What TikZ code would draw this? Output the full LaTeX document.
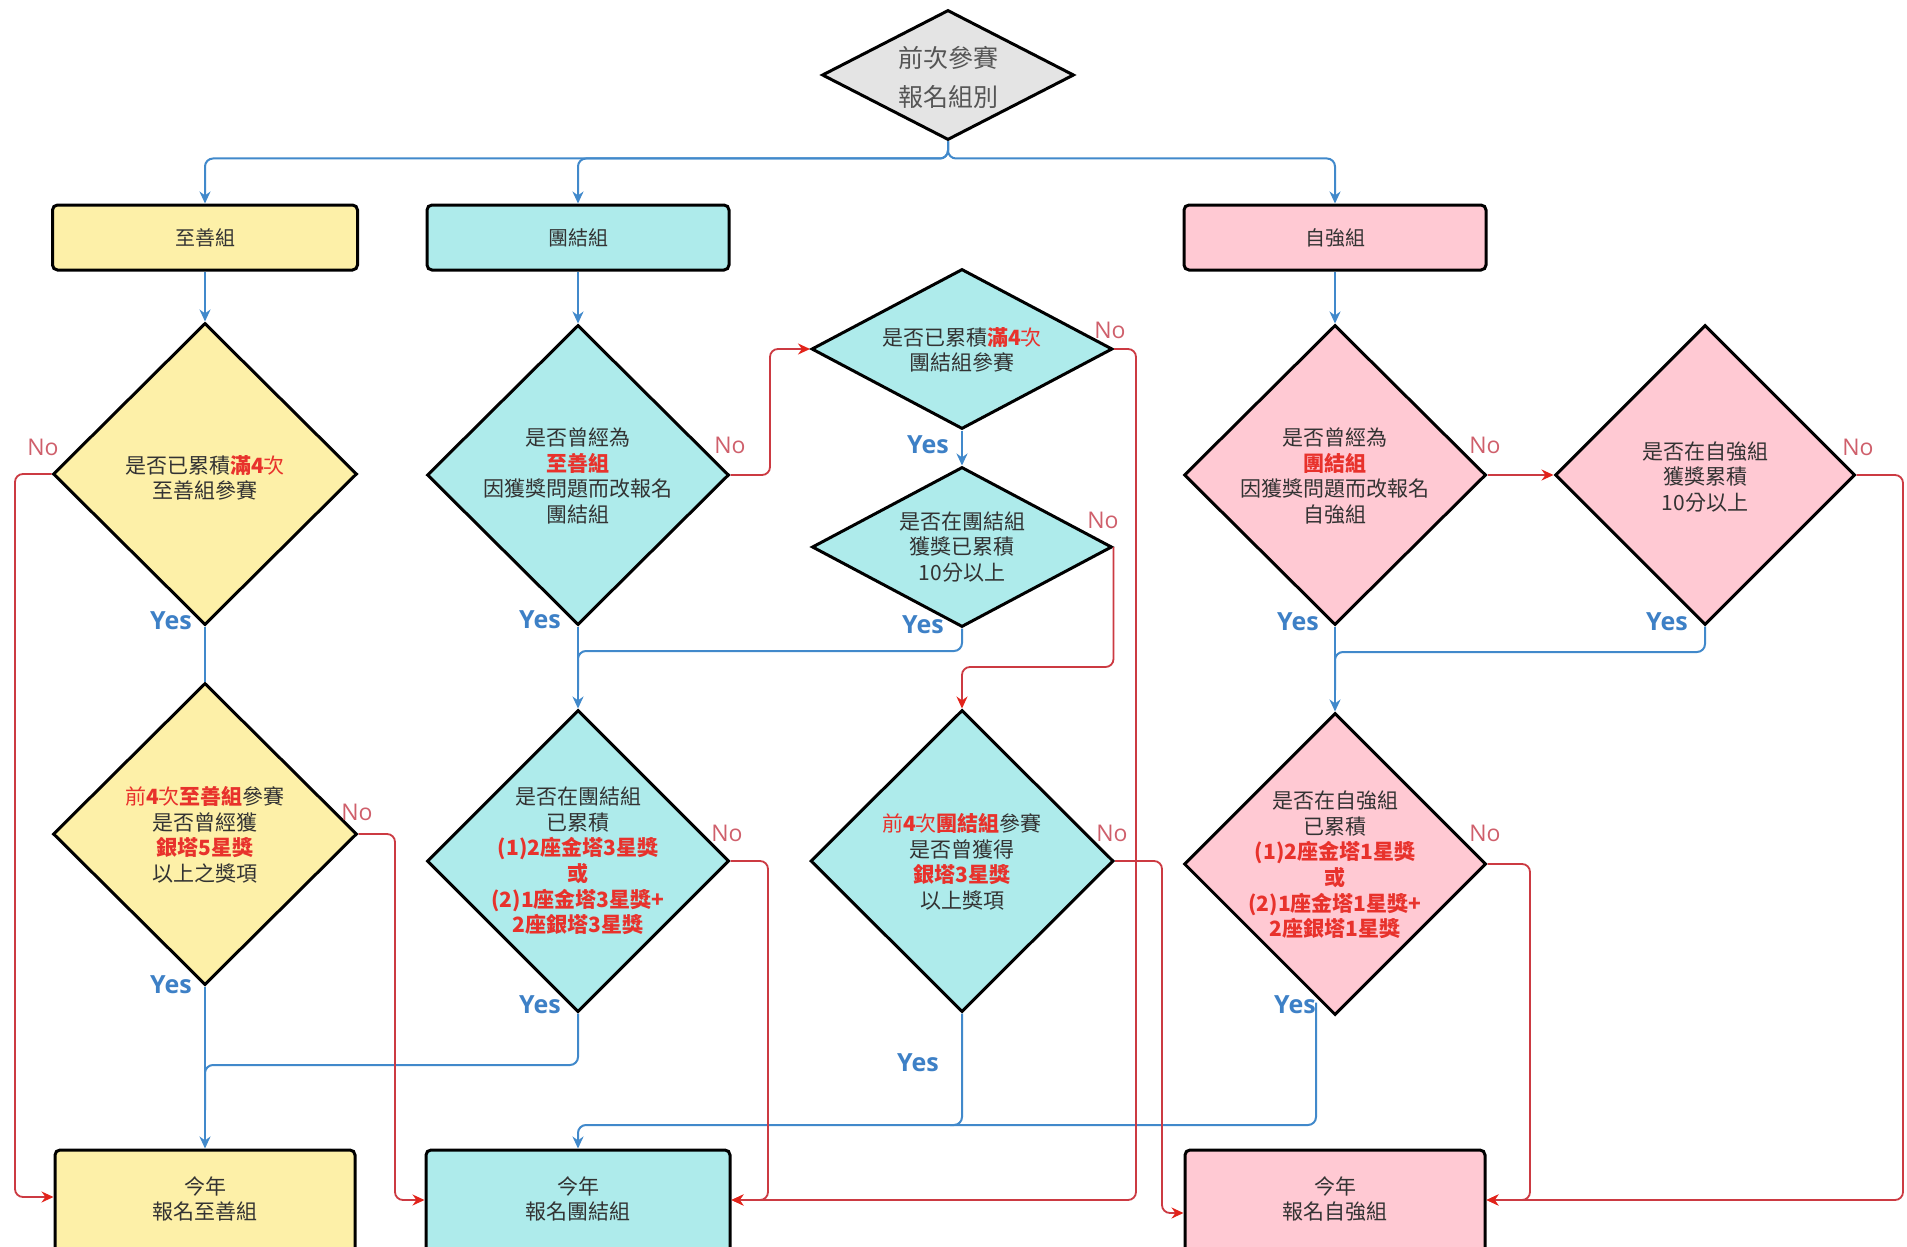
\documentclass[tikz,border=0pt]{standalone}
\usepackage{fontspec}
\setmainfont{Noto Sans CJK TC}
\newfontfamily\latf{Open Sans}
\usetikzlibrary{shapes.geometric,arrows.meta,calc}
\definecolor{yel}{HTML}{FDF0A8}
\definecolor{cya}{HTML}{AEEBEB}
\definecolor{pnk}{HTML}{FFC9D3}
\definecolor{gry}{HTML}{E4E4E4}
\definecolor{blc}{HTML}{4189CB}
\definecolor{rdl}{HTML}{CC3A42}
\definecolor{rdt}{HTML}{E2231A}
\definecolor{rt}{HTML}{E8322C}
\definecolor{tx}{HTML}{333333}
\definecolor{graytx}{HTML}{555555}
\definecolor{yesc}{HTML}{3D80C6}
\definecolor{noc}{HTML}{CF5F6B}
\newcommand{\R}[1]{\textcolor{rt}{\textbf{#1}}}
\begin{document}
\begin{tikzpicture}[x=0.5pt,y=-0.5pt,
  box/.style={draw=black,line width=1.5pt,rounded corners=2.5pt,inner sep=0pt,text=tx,font=\fontsize{10}{12.8}\selectfont},
  dia/.style={diamond,draw=black,line width=1.5pt,inner sep=0pt},
  txt/.style={align=center,text=tx,font=\fontsize{10.5}{12.8}\selectfont,inner sep=0pt},
  bline/.style={draw=blc,line width=1pt,rounded corners=4pt},
  rline/.style={draw=rdl,line width=0.9pt,rounded corners=4pt},
  barr/.style={-{Stealth[length=6pt,width=5.5pt]}},
  rarr/.style={-{Stealth[length=6pt,width=5.5pt,color=rdt]}},
  yeslab/.style={text=yesc,font=\latf\bfseries\fontsize{12.5}{14}\selectfont,inner sep=0pt},
  nolab/.style={text=noc,font=\latf\fontsize{11.5}{13}\selectfont,inner sep=0pt}]
\useasboundingbox (0,0) rectangle (1907,1247);
\fill[white] (0,0) rectangle (1907,1247);

% top decision
\node[dia,fill=gry,minimum width=126pt,minimum height=65pt] (top) at (948,75) {};
\node[align=center,text=graytx,font=\fontsize{12.5}{19.5}\selectfont,inner sep=0pt] (topt) at (948,77) {前次參賽\\報名組別};

% group boxes
\node[box,fill=yel,minimum width=152.5pt,minimum height=32.5pt] (b1) at (205,237.5) {至善組};
\node[box,fill=cya,minimum width=151pt,minimum height=32.5pt] (b2) at (578,237.5) {團結組};
\node[box,fill=pnk,minimum width=151pt,minimum height=32.5pt] (b3) at (1335,237.5) {自強組};

% decisions
\node[dia,fill=yel,minimum width=152pt,minimum height=151pt] (d1) at (205,474) {};
\node[txt] (d1t) at (205,478) {是否已累積\textcolor{rt}{\textbf{滿4}次}\\至善組參賽};

\node[dia,fill=cya,minimum width=151pt,minimum height=150pt] (d2) at (578,475) {};
\node[txt] (d2t) at (578,476) {是否曾經為\\\R{至善組}\\因獲獎問題而改報名\\團結組};

\node[dia,fill=cya,minimum width=150.5pt,minimum height=80pt] (d3) at (962,349) {};
\node[txt] (d3t) at (962,350) {是否已累積\textcolor{rt}{\textbf{滿4}次}\\團結組參賽};

\node[dia,fill=cya,minimum width=150pt,minimum height=80pt] (d4) at (962,547) {};
\node[txt] (d4t) at (962,547) {是否在團結組\\獲獎已累積\\10分以上};

\node[dia,fill=yel,minimum width=152pt,minimum height=151pt] (d5) at (205,834) {};
\node[txt] (d5t) at (205,835) {\textcolor{rt}{前\textbf{4}次\textbf{至善組}}參賽\\是否曾經獲\\\R{銀塔5星獎}\\以上之獎項};

\node[dia,fill=cya,minimum width=151pt,minimum height=151pt] (d6) at (578,861) {};
\node[txt] (d6t) at (578,861) {是否在團結組\\已累積\\\R{(1)2座金塔3星獎}\\\R{或}\\\R{(2)1座金塔3星獎+}\\\R{2座銀塔3星獎}};

\node[dia,fill=cya,minimum width=151.5pt,minimum height=151pt] (d7) at (962,861) {};
\node[txt] (d7t) at (962,862) {\textcolor{rt}{前\textbf{4}次\textbf{團結組}}參賽\\是否曾獲得\\\R{銀塔3星獎}\\以上獎項};

\node[dia,fill=pnk,minimum width=151pt,minimum height=150pt] (d8) at (1335,475) {};
\node[txt] (d8t) at (1335,476) {是否曾經為\\\R{團結組}\\因獲獎問題而改報名\\自強組};

\node[dia,fill=pnk,minimum width=150pt,minimum height=150pt] (d9) at (1705,475) {};
\node[txt] (d9t) at (1705,477) {是否在自強組\\獲獎累積\\10分以上};

\node[dia,fill=pnk,minimum width=151pt,minimum height=151pt] (d10) at (1335,864) {};
\node[txt] (d10t) at (1335,865) {是否在自強組\\已累積\\\R{(1)2座金塔1星獎}\\\R{或}\\\R{(2)1座金塔1星獎+}\\\R{2座銀塔1星獎}};

% final boxes
\node[box,fill=yel,minimum width=150pt,minimum height=60pt] (f1) at (205,1210) {};
\node[txt] (f1t) at (205,1199) {今年\\報名至善組};
\node[box,fill=cya,minimum width=152pt,minimum height=60pt] (f2) at (578,1210) {};
\node[txt] (f2t) at (578,1199) {今年\\報名團結組};
\node[box,fill=pnk,minimum width=150pt,minimum height=60pt] (f3) at (1335,1210) {};
\node[txt] (f3t) at (1335,1199) {今年\\報名自強組};

% top branches
\draw[bline,barr] (top.south) -- ++(0,17) -| (b1.north);
\draw[bline,barr] (top.south) -- ++(0,17) -| (b2.north);
\draw[bline,barr] (top.south) -- ++(0,17) -| (b3.north);
\draw[bline,barr] (b1.south) -- (d1.north);
\draw[bline,barr] (b2.south) -- (d2.north);
\draw[bline,barr] (b3.south) -- (d8.north);

% Yes connectors
\draw[bline] (d1.south) -- (d5.north);
\draw[bline,barr] (d5.south) -- (f1.north);
\draw[bline] (d6.south) -- (578,1065) -- (205,1065) -- (205,1110);
\draw[bline,barr] (d2.south) -- (d6.north);
\draw[bline,barr] (d3.south) -- (d4.north);
\draw[bline] (d4.south) -- (962,651) -- (578,651) -- (578,690);
\draw[bline,barr] (d7.south) -- (962,1125) -- (578,1125) -- (f2.north);
\coordinate (d10y) at ($(d10.south)+(-19,-14)$);
\draw[bline] (d10y) -- (1316,1125) -- (950,1125);
\draw[bline,barr] (d8.south) -- (d10.north);
\draw[bline] (d9.south) -- (1705,652) -- (1335,652) -- (1335,690);

% No connectors
\draw[rline,rarr] (d1.west) -- (15,474) -- (15,1197) -- (f1.west |- 0,1197);
\draw[rline,rarr] (d5.east) -- (395,834) -- (395,1200) -- (f2.west |- 0,1200);
\draw[rline,rarr] (d6.east) -- (768,861) -- (768,1200) -- (f2.east |- 0,1200);
\draw[rline,rarr] (d3.east) -- (1136,349) -- (1136,1200) -- (f2.east |- 0,1200);
\draw[rline,rarr] (d2.east) -- (770,475) -- (770,349) -- (d3.west);
\draw[rline,rarr] (d4.east) -- (d4.east |- 0,667) -- (d7.north |- 0,667) -- (d7.north);
\draw[rline,rarr] (d7.east) -- (1162,861) -- (1162,1213) -- (f3.west |- 0,1213);
\draw[rline,rarr] (d8.east) -- (d9.west);
\draw[rline,rarr] (d10.east) -- (1530,864) -- (1530,1200) -- (f3.east |- 0,1200);
\draw[rline,rarr] (d9.east) -- (1903,475) -- (1903,1200) -- (f3.east |- 0,1200);

% labels
\node[nolab] (n1) at (43,447) {No};
\node[yeslab] (y1) at (171,621) {Yes};
\node[nolab] (n2) at (730,445) {No};
\node[yeslab] (y2) at (540,620) {Yes};
\node[nolab] (n3) at (1110,330) {No};
\node[yeslab] (y3) at (928,445) {Yes};
\node[nolab] (n4) at (1103,520) {No};
\node[yeslab] (y4) at (923,625) {Yes};
\node[nolab] (n5) at (357,812) {No};
\node[yeslab] (y5) at (171,985) {Yes};
\node[nolab] (n6) at (727,833) {No};
\node[yeslab] (y6) at (540,1005) {Yes};
\node[nolab] (n7) at (1112,833) {No};
\node[yeslab] (y7) at (918,1063) {Yes};
\node[nolab] (n8) at (1485,445) {No};
\node[yeslab] (y8) at (1298,622) {Yes};
\node[nolab] (n9) at (1858,447) {No};
\node[yeslab] (y9) at (1667,622) {Yes};
\node[nolab] (n10) at (1485,833) {No};
\node[yeslab] (y10) at (1295,1005) {Yes};
\end{tikzpicture}
\end{document}
